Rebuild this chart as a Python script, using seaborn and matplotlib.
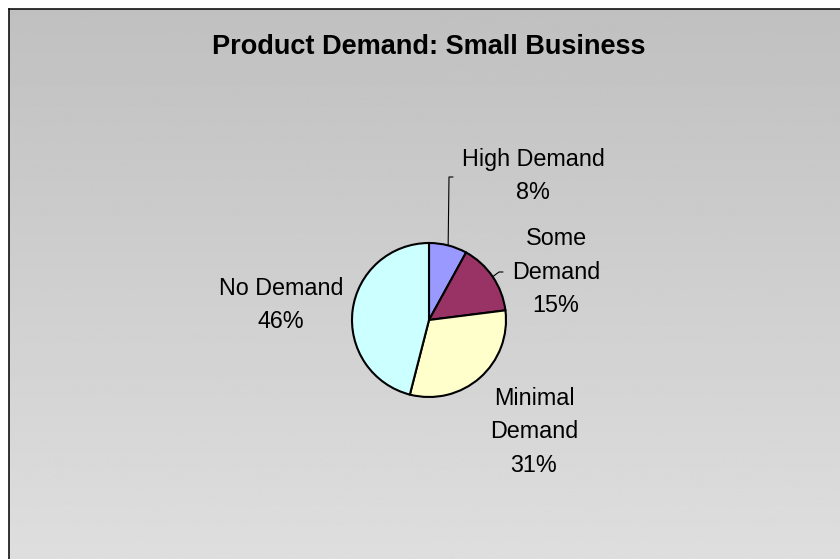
import numpy as np
import matplotlib
matplotlib.use("Agg")
import matplotlib.pyplot as plt
import seaborn as sns

# Survey shares (percent) by demand level
categories = ["High Demand", "Some Demand", "Minimal Demand", "No Demand"]
shares = [8, 15, 31, 46]
label_names = ["High Demand", "Some\nDemand", "Minimal\nDemand", "No Demand"]
slice_colors = ["#9999FF", "#993366", "#FFFFCC", "#CCFFFF"]
chart_title = "Product Demand: Small Business"

sns.set_theme(style="white")
plt.rcParams["font.family"] = ["Liberation Sans", "DejaVu Sans"]

W, H = 840, 559
fig = plt.figure(figsize=(W / 100, H / 100), dpi=100)
fig.patch.set_facecolor("white")


def fig_box(left, top, width, height):
    """Axes rectangle from pixel geometry (origin at top-left)."""
    return [left / W, 1 - (top + height) / H, width / W, height / H]


# Chart area: vertical grey gradient with a frame on the visible edges
bg = fig.add_axes(fig_box(9, 9, W - 9, H - 9))
shade = np.linspace(192, 222, 256)[:, None] / 255.0
bg.imshow(shade, cmap="gray", vmin=0, vmax=1, aspect="auto",
          extent=[0, 1, 0, 1], origin="upper", interpolation="bilinear")
bg.set_xticks([])
bg.set_yticks([])
for side, sp in bg.spines.items():
    sp.set_visible(side in ("left", "top"))
    sp.set_color("#111111")
    sp.set_linewidth(1.2)

fig.text(429 / W, 1 - 47 / H, chart_title, ha="center", va="center",
         fontsize=19.5, fontweight="bold", color="black")

# Pie, centred in the plot area
cx, cy, r = 429, 320, 77
ax = fig.add_axes(fig_box(cx - r, cy - r, 2 * r, 2 * r))
wedges, _ = ax.pie(shares, colors=slice_colors, startangle=90,
                   counterclock=False, radius=1,
                   wedgeprops=dict(edgecolor="black", linewidth=1.5))
ax.set_xlim(-1, 1)
ax.set_ylim(-1, 1)
ax.set_aspect("equal")
ax.axis("off")


def to_data(px, py):
    return (px - cx) / r, (cy - py) / r


# Label block centres (pixel layout)
label_pos = [(533, 176), (556, 272), (534, 432), (281, 305)]
for name, val, (px, py) in zip(label_names, shares, label_pos):
    x, y = to_data(px, py)
    ax.text(x, y, f"{name}\n{val}%", ha="center", va="center",
            fontsize=16.8, linespacing=1.6, color="black", clip_on=False)

# Leader lines from the wedge mid-angle to the label
elbows = {0: [(449, 177), (453, 177)], 1: [(499, 272), (503, 272)]}
for i, pts in elbows.items():
    w = wedges[i]
    mid = np.deg2rad((w.theta1 + w.theta2) / 2)
    xs = [np.cos(mid)] + [to_data(*p)[0] for p in pts]
    ys = [np.sin(mid)] + [to_data(*p)[1] for p in pts]
    ax.plot(xs, ys, color="black", linewidth=0.8, clip_on=False)

fig.savefig("out.png", dpi=100, facecolor=fig.get_facecolor())
